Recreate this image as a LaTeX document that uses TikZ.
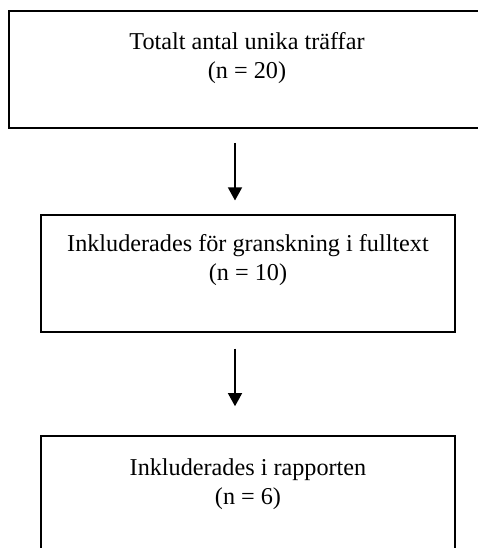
\documentclass[tikz,border=0pt]{standalone}
\usepackage{fontspec}
\setmainfont{Liberation Serif}
\usetikzlibrary{arrows.meta}
\tikzset{
  boxnode/.style={draw=black, line width=1.6pt, rectangle, inner sep=0pt},
  txt/.style={align=center, font=\fontsize{24.2}{29}\selectfont, inner sep=0pt},
  arr/.style={line width=1.4pt, -{Triangle[width=14pt,length=13pt]}}
}
\begin{document}
\begin{tikzpicture}[x=1pt,y=-1pt]
\useasboundingbox (0,0) rectangle (478,548);
\fill[white] (0,0) rectangle (478,548);
\clip (0,0) rectangle (478,548);
\node[boxnode, line width=2pt, minimum width=480pt, minimum height=117pt] (box1) at (249,69.5) {};
\node[boxnode, minimum width=414pt, minimum height=116.5pt] (box2) at (248,273.5) {};
\node[boxnode, minimum width=414pt, minimum height=130pt] (box3) at (248,501) {};
\node[txt] (t1) at (247,58) {Totalt antal unika träffar\\(n = 20)};
\node[txt] (t2) at (248,260) {Inkluderades för granskning i fulltext\\(n = 10)};
\node[txt] (t3) at (248,484) {Inkluderades i rapporten\\(n = 6)};
\coordinate (ax) at (235,0);
\draw[arr] ([yshift=-14pt]box1.south -| ax) -- ([yshift=14pt]box2.north -| ax);
\draw[arr] ([yshift=-16pt]box2.south -| ax) -- ([yshift=29pt]box3.north -| ax);
\end{tikzpicture}
\end{document}
